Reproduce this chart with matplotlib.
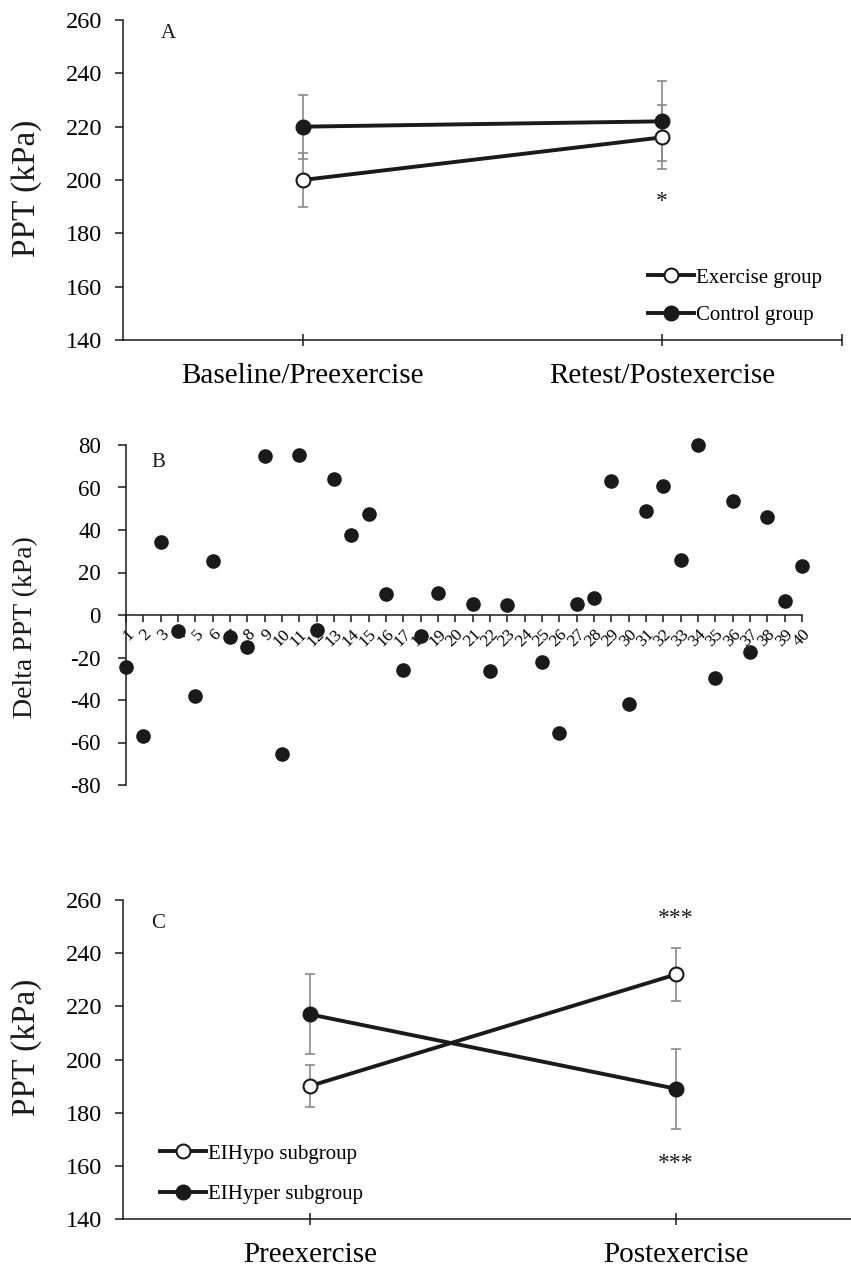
import numpy as np
import matplotlib.pyplot as plt

plt.rcParams['font.family'] = 'Liberation Serif'
plt.rcParams['axes.unicode_minus'] = False

# Panel A data: PPT means and error bars
time_labels_a = ['Baseline/Preexercise', 'Retest/Postexercise']
exercise_mean = [200, 216]
exercise_err = [10, 12]
control_mean = [220, 222]
control_err = [12, 15]

# Panel B data: delta PPT per participant (20 and 24 not plotted)
subject_ids = list(range(1, 41))
delta_ppt = [-24.3, -56.8, 34.2, -7.7, -38.0, 25.3, -10.4, -15.1, 75.0, -65.6,
             75.5, -7.1, 64.2, 37.5, 47.7, 9.9, -26.0, -10.0, 10.5, np.nan,
             5.3, -26.2, 4.7, np.nan, -22.0, -55.5, 5.2, 7.8, 63.2, -41.9,
             48.9, 60.7, 25.7, 79.8, -29.5, 53.6, -17.3, 46.1, 6.7, 23.2]

# Panel C data: subgroups
time_labels_c = ['Preexercise', 'Postexercise']
hypo_mean = [190, 232]
hypo_err = [8, 10]
hyper_mean = [217, 189]
hyper_err = [15, 15]

W, H = 851, 1269
fig = plt.figure(figsize=(W / 100, H / 100), dpi=100)


def rect(l, t, r, b):
    return [l / W, 1 - b / H, (r - l) / W, (b - t) / H]


ink = '#1a1a1a'
err_col = '#8a8a8a'


def style_ppt_axes(ax, labels, right_tick):
    for s in ['top', 'right']:
        ax.spines[s].set_visible(False)
    for s in ['left', 'bottom']:
        ax.spines[s].set_color(ink)
        ax.spines[s].set_linewidth(1.1)
    ax.set_ylim(140, 260)
    ax.set_yticks(range(140, 261, 20))
    ticks = [0, 1] + ([1.5] if right_tick else [])
    ax.set_xticks(ticks)
    ax.set_xticklabels(labels + ([''] if right_tick else []), fontsize=21)
    ax.tick_params(axis='x', direction='inout', length=9, width=1.1, color=ink, pad=12)
    ax.tick_params(axis='y', direction='out', length=6, width=1.1, color=ink,
                   labelsize=17.5, pad=9)


def draw_pair(ax, x, mean, err, filled, label):
    ax.errorbar(x, mean, yerr=err, fmt='none', ecolor=err_col, elinewidth=1.2,
                capsize=3.5, capthick=1.2, zorder=2)
    ax.plot(x, mean, '-o', color=ink, lw=2.8, ms=10,
            mfc=ink if filled else 'white', mec=ink, mew=1.5,
            label=label, zorder=3)


# ---- Panel A
axA = fig.add_axes(rect(123, 20, 842, 340))
xa = np.arange(len(time_labels_a))
draw_pair(axA, xa, exercise_mean, exercise_err, False, 'Exercise group')
draw_pair(axA, xa, control_mean, control_err, True, 'Control group')
axA.set_xlim(-0.5, 1.5)
style_ppt_axes(axA, time_labels_a, True)
axA.text(1, 192, '*', ha='center', va='center', fontsize=17, color=ink)
axA.legend(loc='upper left', bbox_to_anchor=(0.73, 0.225), frameon=False,
           fontsize=15, handlelength=2.2, handletextpad=0.1, labelspacing=0.85,
           borderpad=0, borderaxespad=0, numpoints=1)
fig.text(161 / W, 1 - 33 / H, 'A', ha='left', va='center', fontsize=15, color=ink)
fig.text(27 / W, 1 - 188 / H, 'PPT (kPa)', rotation=90, ha='center', va='center',
         fontsize=24, color=ink)

# ---- Panel B
axB = fig.add_axes(rect(126, 445, 802, 785))
axB.spines['bottom'].set_position(('data', 0))
axB.plot(subject_ids, delta_ppt, 'o', color=ink, ms=9.5, clip_on=False, zorder=3)
axB.set_xlim(1, 40)
axB.set_ylim(-80, 80)
axB.set_yticks(range(-80, 81, 20))
axB.set_yticklabels([str(v) for v in range(-80, 81, 20)])
axB.set_xticks(subject_ids)
axB.set_xticklabels([str(i) for i in subject_ids], fontsize=12.5)
for s in ['top', 'right']:
    axB.spines[s].set_visible(False)
for s in ['left', 'bottom']:
    axB.spines[s].set_color(ink)
    axB.spines[s].set_linewidth(1.1)
axB.tick_params(axis='x', direction='out', length=5, width=1.1, color=ink, pad=3,
                labelrotation=45)
axB.tick_params(axis='y', direction='out', length=6, width=1.1, color=ink,
                labelsize=16.5, pad=12)
for lab in axB.get_xticklabels():
    lab.set_ha('right')
    lab.set_rotation_mode('anchor')
fig.text(158 / W, 1 - 462 / H, 'B', ha='center', va='center', fontsize=15, color=ink)
fig.text(26 / W, 1 - 627 / H, 'Delta PPT (kPa)', rotation=90, ha='center',
         va='center', fontsize=20, color=ink)

# ---- Panel C
axC = fig.add_axes(rect(123, 900, 859, 1219))
xc = np.arange(len(time_labels_c))
draw_pair(axC, xc, hypo_mean, hypo_err, False, 'EIHypo subgroup')
draw_pair(axC, xc, hyper_mean, hyper_err, True, 'EIHyper subgroup')
axC.set_xlim(-0.51, 1.5)
style_ppt_axes(axC, time_labels_c, False)
axC.text(1, 253, '***', ha='center', va='center', fontsize=17, color=ink)
axC.text(1, 161, '***', ha='center', va='center', fontsize=17, color=ink)
axC.legend(loc='upper left', bbox_to_anchor=(0.05, 0.235), frameon=False,
           fontsize=15, handlelength=2.2, handletextpad=0.1, labelspacing=1.0,
           borderpad=0, borderaxespad=0, numpoints=1)
fig.text(158 / W, 1 - 924 / H, 'C', ha='center', va='center', fontsize=15, color=ink)
fig.text(27 / W, 1 - 1047 / H, 'PPT (kPa)', rotation=90, ha='center', va='center',
         fontsize=24, color=ink)

fig.savefig('out.png', dpi=100)
